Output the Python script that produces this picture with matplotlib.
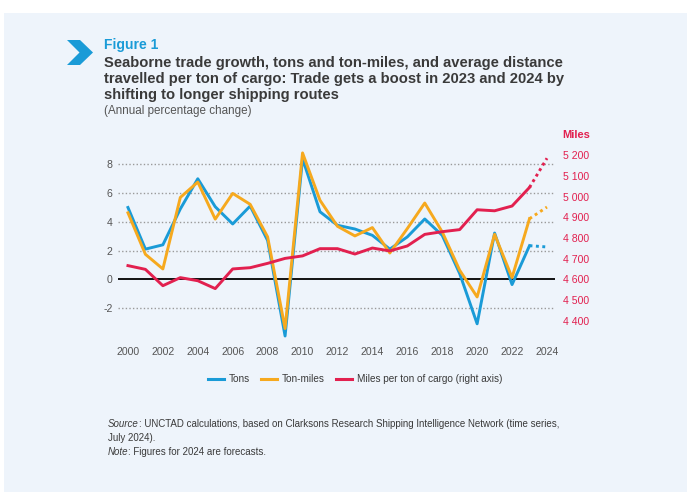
import matplotlib
matplotlib.use("Agg")
import matplotlib.pyplot as plt
from matplotlib.patches import Polygon, Rectangle
from matplotlib.lines import Line2D

plt.rcParams['font.family'] = ['Liberation Sans', 'DejaVu Sans']

years = list(range(2000, 2025))
tons = [5.0, 2.1, 2.4, 4.9, 7.0, 5.05, 3.85, 5.1, 2.7, -3.95, 8.4, 4.7, 3.76, 3.5, 3.06,
        2.1, 2.95, 4.2, 3.06, 0.4, -3.1, 3.22, -0.37, 2.34, 2.25]
ton_miles = [4.63, 1.74, 0.72, 5.7, 6.77, 4.19, 5.98, 5.22, 2.95, -3.43, 8.8, 5.5, 3.69,
             3.02, 3.6, 1.83, 3.53, 5.31, 3.3, 0.63, -1.23, 3.13, 0.12, 4.22, 5.03]
miles = [4666, 4648, 4569, 4608, 4593, 4555, 4650, 4656, 4677, 4701, 4713, 4748, 4748,
         4722, 4751, 4737, 4761, 4817, 4830, 4840, 4936, 4931, 4954, 5044, 5185]

left_ticks = [-2, 0, 2, 4, 6, 8]
right_ticks = [4400, 4500, 4600, 4700, 4800, 4900, 5000, 5100, 5200]
x_ticks = list(range(2000, 2025, 2))

BLUE = '#1a9bd7'
ORANGE = '#f6a91e'
RED = '#e2204f'
BG = '#eef4fb'
TXT = '#3a3a3a'

W, H = 698, 500
fig = plt.figure(figsize=(W / 100, H / 100), dpi=100)
fig.patch.set_facecolor('white')

# panel background
fig.add_artist(Rectangle((4 / W, 1 - 492 / H), (687 - 4) / W, (492 - 13) / H,
                         transform=fig.transFigure, facecolor=BG, edgecolor='none', zorder=-10))

# chevron
pts = [(67, 40), (80, 40), (93, 52.5), (80, 65), (67, 65), (79.5, 52.5)]
fig.add_artist(Polygon([(x / W, 1 - y / H) for x, y in pts], closed=True,
                       transform=fig.transFigure, facecolor=BLUE, edgecolor='none'))

fig.text(104 / W, 1 - 45 / H, 'Figure 1', color=BLUE, fontsize=10, fontweight='bold',
         va='center', ha='left')
title = ('Seaborne trade growth, tons and ton-miles, and average distance\n'
         'travelled per ton of cargo: Trade gets a boost in 2023 and 2024 by\n'
         'shifting to longer shipping routes')
fig.text(104 / W, 1 - 55.5 / H, title, color=TXT, fontsize=10.6, fontweight='bold',
         va='top', ha='left', linespacing=1.2)
fig.text(104 / W, 1 - 111 / H, '(Annual percentage change)', color='#555555', fontsize=8.4,
         va='center', ha='left')

# axes
y_lo, y_hi = -4.2, 9.49
top_px, bot_px = 143, 339.6
ax = fig.add_axes([118 / W, 1 - bot_px / H, (555 - 118) / W, (bot_px - top_px) / H])
ax.set_facecolor('none')
ax.set_xlim(1999.43, 2024.46)
ax.set_ylim(y_lo, y_hi)
for s in ax.spines.values():
    s.set_visible(False)

for t in left_ticks:
    if t == 0:
        ax.axhline(0, color='black', lw=1.3, zorder=1)
    else:
        ax.axhline(t, color='#9a9a9a', lw=1.0, linestyle=(0, (1, 1.6)), zorder=1)

ax.set_yticks(left_ticks)
ax.set_yticklabels([str(t) for t in left_ticks])
ax.set_xticks(x_ticks)
ax.set_xticklabels([str(x) for x in x_ticks])
ax.tick_params(axis='both', length=0, labelsize=7.6, labelcolor='#555555')
ax.tick_params(axis='y', pad=4)
ax.tick_params(axis='x', pad=5.5)

scale = 69.4
ax2 = ax.twinx()
ax2.set_ylim(4600 + y_lo * scale, 4600 + y_hi * scale)
ax2.set_yticks(right_ticks)
ax2.set_yticklabels([f'{v // 1000} {v % 1000:03d}' for v in right_ticks])
ax2.tick_params(axis='y', length=0, labelsize=7.6, labelcolor=RED, pad=6)
for s in ax2.spines.values():
    s.set_visible(False)
fig.text(562 / W, 1 - 135 / H, 'Miles', color=RED, fontsize=8, fontweight='bold',
         va='center', ha='left')

lw = 2.1
ax.plot(years[:-1], tons[:-1], color=BLUE, lw=lw, zorder=4, clip_on=False)
ax.plot(years[-2:], tons[-2:], color=BLUE, lw=lw, linestyle=(0, (1, 1.2)), zorder=4, clip_on=False)
ax.plot(years[:-1], ton_miles[:-1], color=ORANGE, lw=lw, zorder=5, clip_on=False)
ax.plot(years[-2:], ton_miles[-2:], color=ORANGE, lw=lw, linestyle=(0, (1, 1.2)), zorder=5, clip_on=False)
ax2.plot(years[:-1], miles[:-1], color=RED, lw=lw, zorder=6, clip_on=False)
ax2.plot(years[-2:], miles[-2:], color=RED, lw=lw, linestyle=(0, (1, 1.2)), zorder=6, clip_on=False)

handles = [Line2D([], [], color=BLUE, lw=2.2), Line2D([], [], color=ORANGE, lw=2.2),
           Line2D([], [], color=RED, lw=2.2)]
fig.legend(handles, ['Tons', 'Ton-miles', 'Miles per ton of cargo (right axis)'],
           loc='center', bbox_to_anchor=(355 / W, 1 - 379 / H), ncol=3, frameon=False,
           fontsize=7.2, handlelength=1.6, handletextpad=0.5,
           columnspacing=1.1, labelcolor=TXT)

fs = 7.0
r = fig.canvas.get_renderer()
t1 = fig.text(108 / W, 1 - 424 / H, 'Source', style='italic', color=TXT, fontsize=fs, va='center')
bb = t1.get_window_extent(r)
fig.text(bb.x1 / W, 1 - 424 / H,
         ': UNCTAD calculations, based on Clarksons Research Shipping Intelligence Network (time series,',
         color=TXT, fontsize=fs, va='center')
fig.text(108 / W, 1 - 438 / H, 'July 2024).', color=TXT, fontsize=fs, va='center')
t2 = fig.text(108 / W, 1 - 452 / H, 'Note', style='italic', color=TXT, fontsize=fs, va='center')
bb2 = t2.get_window_extent(r)
fig.text(bb2.x1 / W, 1 - 452 / H, ': Figures for 2024 are forecasts.', color=TXT, fontsize=fs,
         va='center')

fig.savefig('out.png', dpi=100, facecolor='white')
